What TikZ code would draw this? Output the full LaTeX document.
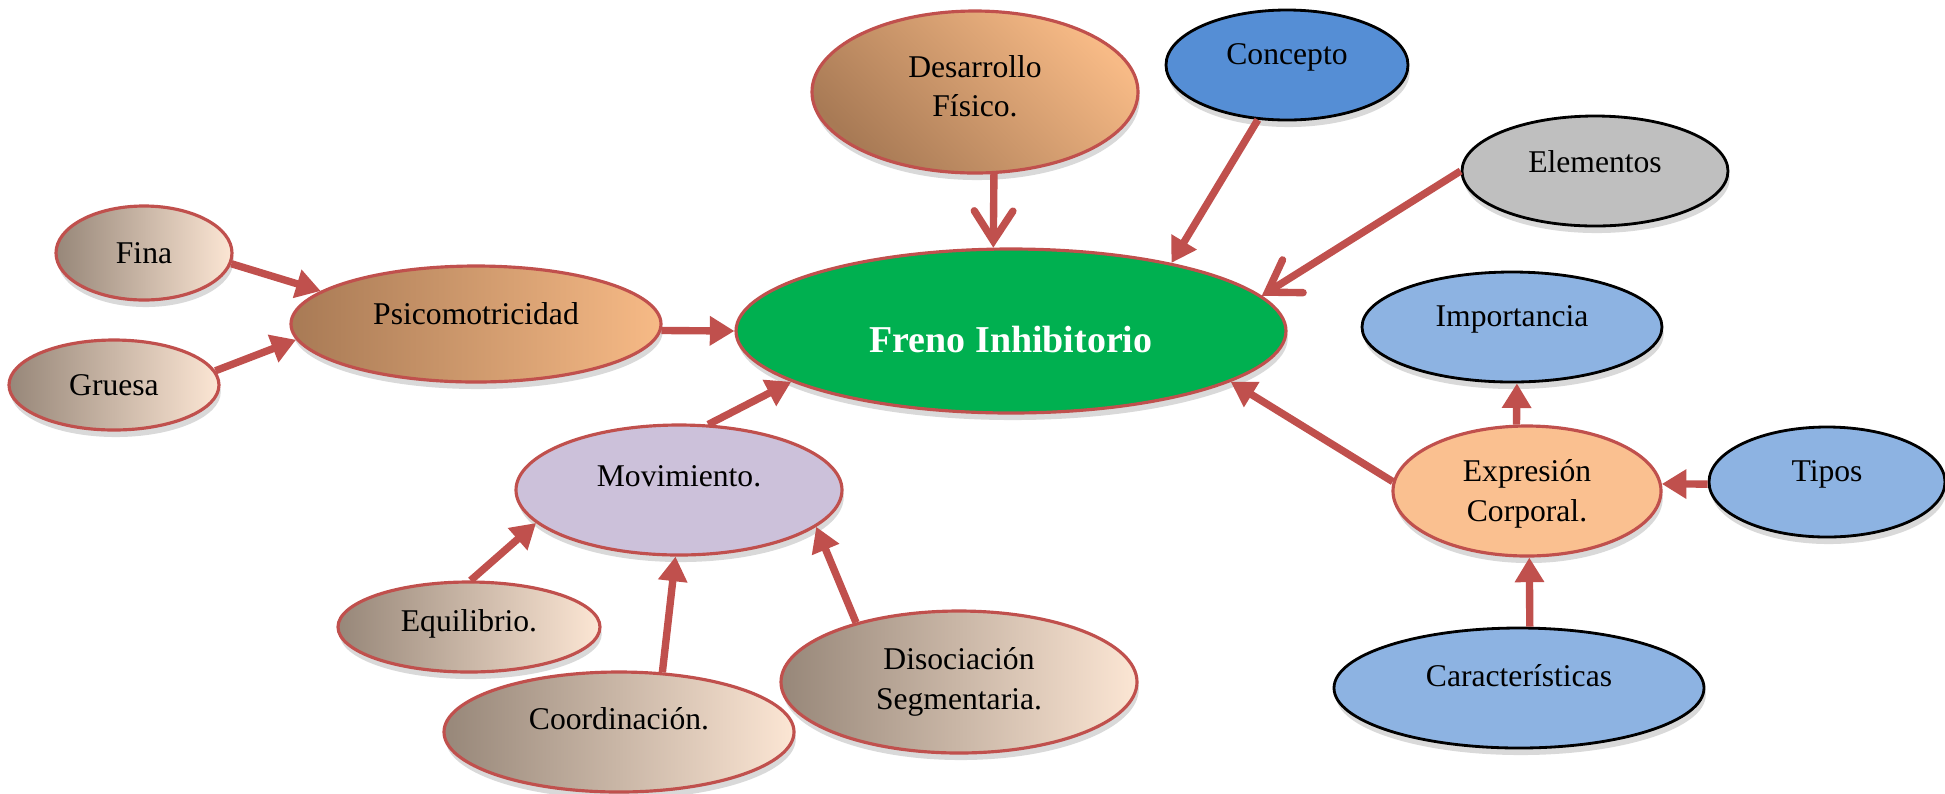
\documentclass[tikz,border=0pt]{standalone}
\usepackage{fontspec}
\setmainfont{Liberation Serif}
\usetikzlibrary{arrows.meta,shapes.geometric,shadows}
\definecolor{rojo}{HTML}{C0504D}
\definecolor{verde}{HTML}{00B050}
\definecolor{azulC}{HTML}{558ED5}
\definecolor{azulL}{HTML}{8DB3E2}
\definecolor{gris}{HTML}{BFBFBF}
\definecolor{lila}{HTML}{CCC1DA}
\definecolor{naranja}{HTML}{FAC090}
\definecolor{cafeO}{HTML}{A87A55}
\definecolor{cafeC}{HTML}{F7BA86}
\definecolor{pielO}{HTML}{978779}
\definecolor{pielC}{HTML}{FCE6D4}
\begin{document}
\begin{tikzpicture}[
    elipse/.style={ellipse, draw=rojo, line width=0.9pt, inner sep=0pt,
      drop shadow={shadow xshift=0.5pt, shadow yshift=-2pt, opacity=0.25, fill=black!60}},
    tam/.style 2 args={minimum width=#1cm, minimum height=#2cm},
    piel/.style={elipse, left color=pielO, right color=pielC},
    cafe/.style={elipse, left color=cafeO, right color=cafeC},
    azul/.style={elipse, draw=black, line width=0.8pt, fill=#1},
    txt/.style={font=\fontsize{9}{11.2}\selectfont, align=center},
    flecha/.style={rojo, line width=2.1pt, -{Triangle[length=7pt,width=8pt]}},
    barba/.style={rojo, line width=2.1pt, -{Straight Barb[length=8.5pt,width=11pt,line cap=round]}}
  ]
  \useasboundingbox (0,0) rectangle (19.45,-7.93);

  \node[elipse, fill=verde, tam={5.50}{1.64}, label={[txt, font=\bfseries\fontsize{10.8}{12}\selectfont, text=white, yshift=-0.9mm]center:Freno Inhibitorio}] (freno) at (10.11,-3.31) {};

  \node[piel, tam={1.76}{0.94}, label={[txt]center:Fina}] (fina) at (1.44,-2.53) {};
  \node[piel, tam={2.10}{0.90}, label={[txt]center:Gruesa}] (gruesa) at (1.14,-3.85) {};
  \node[cafe, tam={3.70}{1.16}, label={[txt, yshift=1mm]center:Psicomotricidad}] (psico) at (4.76,-3.24) {};
  \node[elipse, top color=cafeC, bottom color=cafeO, shading angle=-45, tam={3.26}{1.62}, label={[txt, yshift=0.6mm]center:Desarrollo\\Físico.}] (desa) at (9.75,-0.92) {};
  \node[azul=azulC, tam={2.42}{1.10}, label={[txt, yshift=0.8mm]center:Concepto}] (concepto) at (12.87,-0.65) {};
  \node[azul=gris, tam={2.66}{1.10}, label={[txt, yshift=0.9mm]center:Elementos}] (elem) at (15.95,-1.71) {};
  \node[azul=azulL, tam={3.00}{1.10}, label={[txt, yshift=0.8mm]center:Importancia}] (impo) at (15.12,-3.27) {};

  \node[elipse, fill=lila, tam={3.26}{1.30}, label={[txt, yshift=1.4mm]center:Movimiento.}] (movi) at (6.79,-4.90) {};
  \node[piel, tam={2.62}{0.90}, label={[txt, yshift=0.3mm]center:Equilibrio.}] (equi) at (4.69,-6.27) {};
  \node[piel, tam={3.50}{1.20}, label={[txt, yshift=1.3mm]center:Coordinación.}] (coord) at (6.19,-7.32) {};
  \node[piel, tam={3.56}{1.42}, label={[txt]center:Disociación\\Segmentaria.}] (diso) at (9.59,-6.82) {};

  \node[elipse, fill=naranja, tam={2.68}{1.30}, label={[txt, yshift=-0.3mm]center:Expresión\\Corporal.}] (expr) at (15.27,-4.91) {};
  \node[azul=azulL, tam={2.36}{1.10}, label={[txt, yshift=0.8mm]center:Tipos}] (tipos) at (18.27,-4.82) {};
  \node[azul=azulL, tam={3.70}{1.20}, label={[txt, yshift=1.2mm]center:Características}] (carac) at (15.19,-6.88) {};

  \draw[flecha] (fina.-7) -- (psico.168);
  \draw[flecha] (gruesa.8) -- (psico.185);
  \draw[flecha] (psico.-2) -- (freno.west);
  \draw[barba] (desa.-77) -- (freno.102);
  \draw[flecha] (concepto.242) -- (freno.23);
  \draw[barba] (elem.west) -- (freno.8);
  \draw[flecha] (movi.66) -- (freno.193);
  \draw[flecha] (equi.88) -- (movi.193);
  \draw[flecha] (coord.54) -- (movi.267);
  \draw[flecha] (diso.150) -- (movi.-15);
  \draw[flecha] (expr.176) -- (freno.-13);
  \draw[flecha] (expr.99) -- (impo.-85);
  \draw[flecha] (tipos.181) -- (expr.3);
  \draw[flecha] (carac.80) -- (expr.-88);
\end{tikzpicture}
\end{document}
